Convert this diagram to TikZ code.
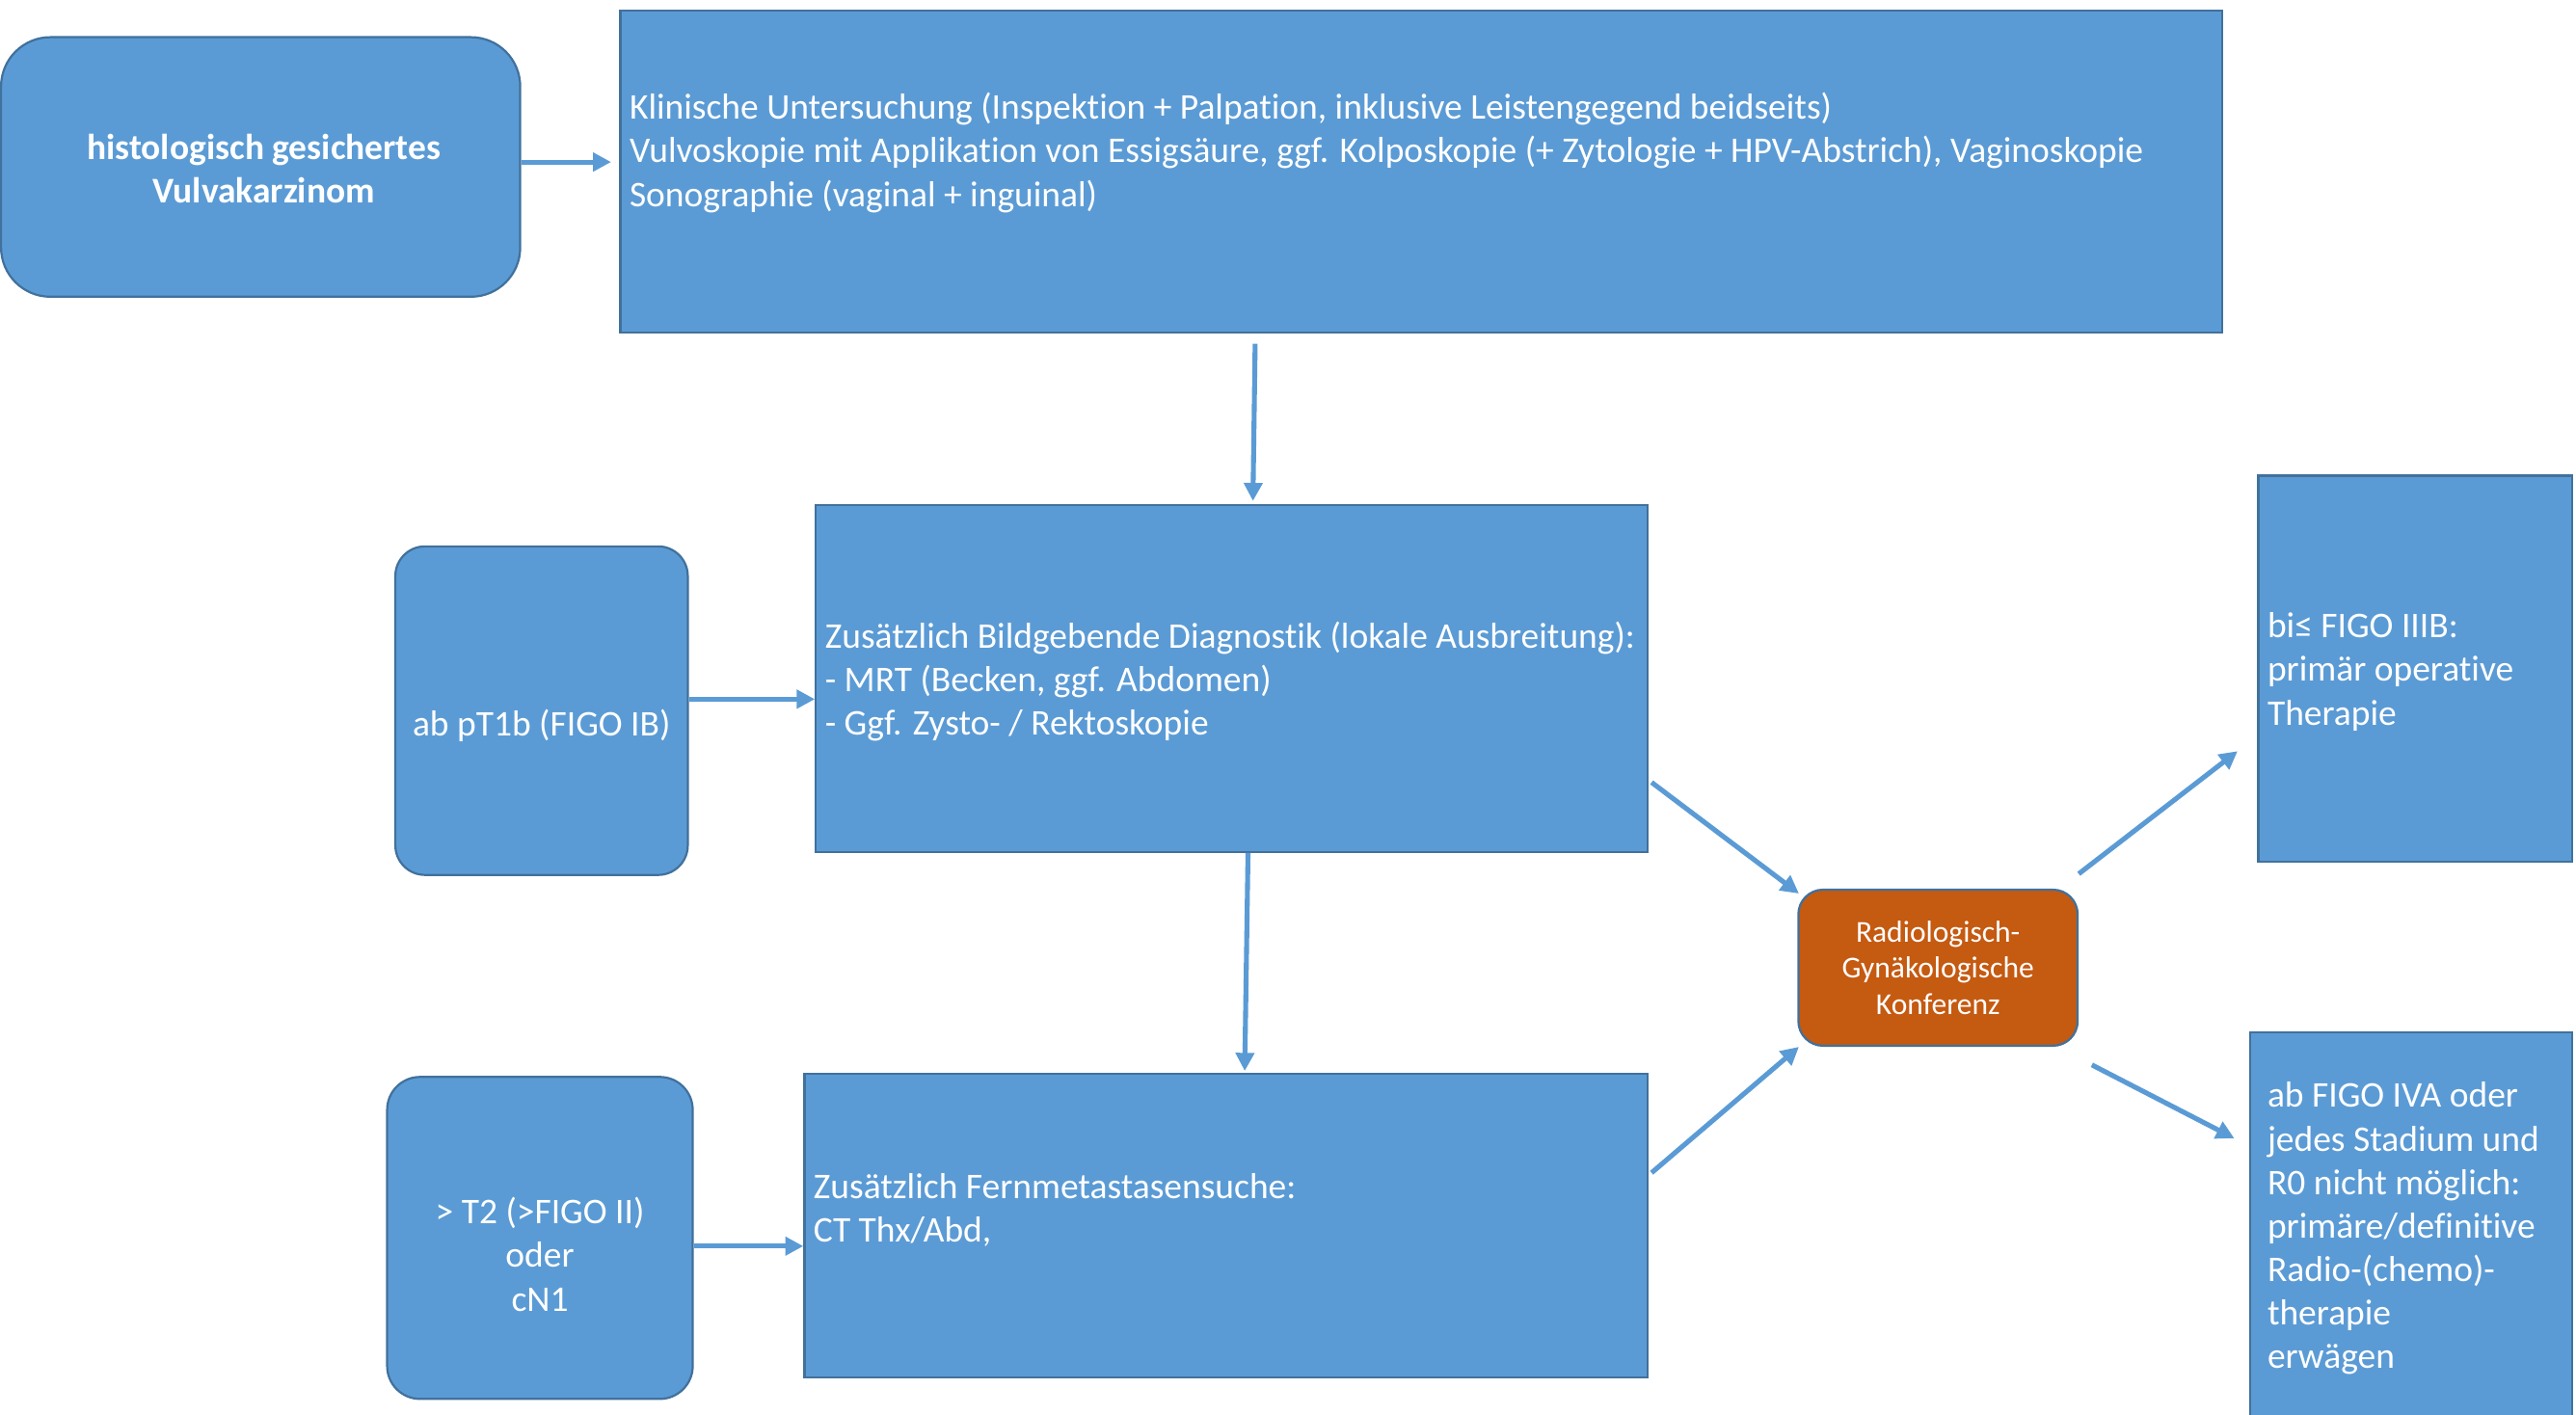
\documentclass[tikz,border=0pt]{standalone}
\usepackage{fontspec}
\setmainfont{Carlito}[Ligatures=NoCommon]
\usetikzlibrary{arrows.meta,calc}
\definecolor{boxblue}{HTML}{5B9BD5}
\definecolor{edgeblue}{HTML}{41719C}
\definecolor{konf}{HTML}{C55A11}
\begin{document}
\begin{tikzpicture}[x=1pt,y=-1pt,
  box/.style={draw=edgeblue, fill=boxblue, line width=1.3pt, rectangle, inner sep=0pt, anchor=north west, text=white, align=center, font=\fontsize{22}{26.5}\selectfont},
  rbox/.style={box, rounded corners=#1},
  txt/.style={text=white, inner sep=0pt, align=left, anchor=west, font=\fontsize{22}{26.5}\selectfont},
  ctxt/.style={txt, align=center, anchor=center},
  arr/.style={draw=boxblue, line width=3pt, -{Triangle[length=11pt,width=11pt]}}]
\useasboundingbox (0,0) rectangle (1568,861);

\node[rbox=30, minimum width=316pt, minimum height=158pt] (A) at (0,22) {};
\node[ctxt, font=\bfseries\fontsize{22}{26.5}\selectfont] (At) at ($(A.center)+(2,1)$) {histologisch gesichertes\\Vulvakarzinom};
\node[box, minimum width=975pt, minimum height=196pt] (B) at (377,6) {};
\node[txt] (Bt) at (383,93) {Klinische Untersuchung (Inspektion + Palpation, inklusive Leistengegend beidseits)\\Vulvoskopie mit Applikation von Essigsäure, ggf. Kolposkopie (+ Zytologie + HPV-Abstrich), Vaginoskopie\\Sonographie (vaginal + inguinal)};

\node[box, minimum width=506pt, minimum height=211pt] (C) at (496,307) {};
\node[txt] (Ct) at (502,415) {Zusätzlich Bildgebende Diagnostik (lokale Ausbreitung):\\- MRT (Becken, ggf. Abdomen)\\- Ggf. Zysto- / Rektoskopie};

\node[rbox=18, minimum width=178pt, minimum height=200pt] (D) at (240,332) {};
\node[ctxt] (Dt) at ($(D.center)+(0,9)$) {ab pT1b (FIGO IB)};

\node[box, minimum width=513pt, minimum height=185pt] (E) at (489,653) {};
\node[txt] (Et) at (495,736.5) {Zusätzlich Fernmetastasensuche:\\CT Thx/Abd,};

\node[rbox=20, minimum width=186pt, minimum height=196pt] (F) at (235,655) {};
\node[ctxt] (Ft) at ($(F.center)+(0,10)$) {> T2 (>FIGO II)\\oder\\cN1};

\node[rbox=15, fill=konf, minimum width=170pt, minimum height=95pt, font=\fontsize{18.5}{22}\selectfont] (G) at (1094,541) {Radiologisch-\\Gynäkologische\\Konferenz};

\node[box, minimum width=191pt, minimum height=235pt] (H) at (1374,289) {};
\node[txt] (Ht) at (1380,409) {bi≤ FIGO IIIB:\\primär operative\\Therapie};

\node[box, minimum width=196pt, minimum height=240pt] (I) at (1369,628) {};
\node[txt] (It) at (1380,748) {ab FIGO IVA oder\\jedes Stadium und\\R0 nicht möglich:\\primäre/definitive\\Radio-(chemo)-\\therapie\\erwägen};

\draw[arr] ($(A.east)+(0,-3)$) -- ($(B.west |- A.east)+(-5,-3)$);
\draw[arr] ($(B.south west)+(387,6)$) -- ($(C.north)+(13,-2)$);
\draw[arr] ($(D.east)+(0,-7)$) -- ($(C.west |- D.east)+(0,-7)$);
\draw[arr] ($(C.south)+(10,0)$) -- ($(E.north)+(11.5,-1)$);
\draw[arr] ($(F.east)+(0,5)$) -- ($(E.west |- F.east)+(0,5)$);
\draw[arr] ($(C.south east)+(2,-43)$) -- ($(G.north west)+(1,3)$);
\draw[arr] ($(E.north east)+(2,61)$) -- ($(G.south west)+(1,0)$);
\draw[arr] ($(G.north east)+(0,-9)$) -- ($(H.south west)+(-12,-68)$);
\draw[arr] ($(G.south east)+(8,11)$) -- ($(I.north west)+(-9,65)$);
\end{tikzpicture}
\end{document}
